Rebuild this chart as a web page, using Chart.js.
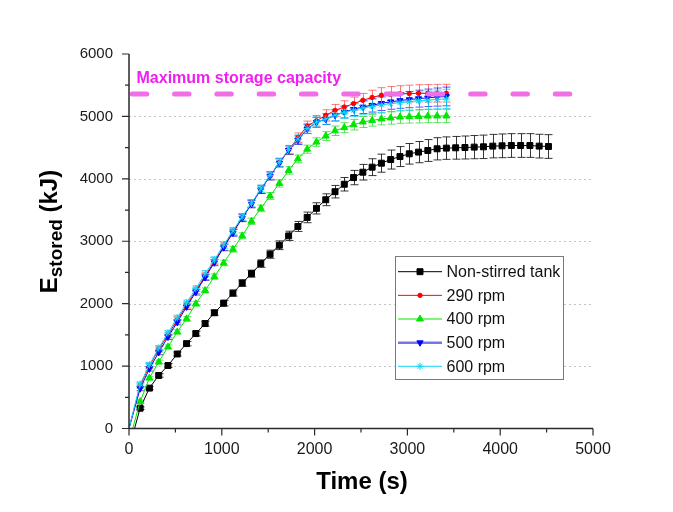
<!DOCTYPE html>
<html>
<head>
<meta charset="utf-8">
<script src="https://cdn.jsdelivr.net/npm/chart.js@4.4.1/dist/chart.umd.min.js"></script>
<style>
  html, body { margin: 0; padding: 0; background: #fff; }
  #wrap { width: 673px; height: 512px; }
</style>
</head>
<body>
<div id="wrap"><canvas id="chart" width="673" height="512"></canvas></div>
<script>
const FONT = 'Arial, "Liberation Sans", sans-serif';

// Sampling times (s)
const tRamp = [120, 220, 320, 420, 520, 620, 720, 820, 920, 1020, 1120, 1220, 1320, 1420, 1520, 1620, 1720,
  1820, 1920, 2020, 2120, 2220, 2320, 2420, 2520, 2620, 2720, 2820, 2920, 3020, 3120, 3220, 3320, 3420];
const tTail = [3520, 3620, 3720, 3820, 3920, 4020, 4120, 4220, 4320, 4420, 4520];
const tNonStirred = [60, ...tRamp, ...tTail];
const tRpm400 = [40, ...tRamp];
const tStirred = [0, ...tRamp];

// Stored energy (kJ)
const eNonStirred = [0, 325, 647, 850, 1010, 1194, 1360, 1521, 1681, 1854, 2008, 2169, 2330, 2481, 2642, 2792,
  2936, 3086, 3237, 3382, 3527, 3665, 3794, 3913, 4020, 4106, 4187, 4251, 4309, 4357, 4401, 4428, 4454, 4481,
  4492, 4497, 4502, 4508, 4513, 4524, 4529, 4534, 4534, 4534, 4524, 4518];
const e290 = [0, 690, 1000, 1270, 1500, 1740, 1980, 2210, 2440, 2680, 2915, 3150, 3380, 3600, 3830, 4050, 4260,
  4460, 4660, 4845, 4930, 5017, 5097, 5150, 5205, 5258, 5305, 5340, 5355, 5362, 5366, 5370, 5370, 5372, 5372];
const e400 = [0, 431, 808, 1065, 1307, 1548, 1757, 1999, 2212, 2433, 2652, 2872, 3086, 3320, 3527, 3725, 3926,
  4135, 4320, 4475, 4589, 4685, 4770, 4820, 4867, 4911, 4936, 4960, 4975, 4990, 4996, 5000, 5005, 5007, 5007];
const e500 = [0, 640, 957, 1220, 1467, 1702, 1950, 2185, 2420, 2658, 2900, 3135, 3370, 3596, 3826, 4045, 4256,
  4460, 4620, 4800, 4905, 4955, 5017, 5071, 5114, 5152, 5180, 5210, 5235, 5255, 5270, 5285, 5298, 5310, 5320];
const e600 = [0, 711, 1022, 1290, 1532, 1773, 2014, 2240, 2481, 2700, 2941, 3167, 3390, 3610, 3840, 4055, 4265,
  4470, 4635, 4805, 4910, 4960, 5020, 5065, 5100, 5135, 5160, 5185, 5205, 5220, 5235, 5250, 5262, 5272, 5280];

// Standard deviations (kJ)
const errNonStirred = [0, 20, 25, 28, 30, 32, 35, 38, 40, 42, 45, 48, 52, 56, 60, 65, 70, 75, 80, 85, 90, 95, 100,
  108, 115, 125, 135, 145, 152, 160, 165, 170, 175, 178, 180, 182, 184, 186, 188, 188, 190, 190, 190, 190, 190, 190];
const err290 = [0, 40, 42, 44, 46, 48, 50, 52, 54, 56, 58, 60, 62, 64, 66, 68, 70, 72, 75, 80, 85, 90, 95, 100,
  105, 110, 115, 120, 125, 130, 135, 138, 140, 142, 142];
const err400 = [0, 25, 28, 30, 32, 34, 36, 38, 40, 42, 44, 46, 48, 50, 52, 55, 58, 60, 62, 65, 68, 72, 76, 80,
  84, 88, 92, 95, 98, 100, 102, 104, 105, 106, 106];
const err500 = [0, 35, 36, 38, 40, 42, 44, 46, 48, 50, 52, 54, 56, 58, 60, 62, 64, 66, 70, 75, 80, 85, 90, 95,
  100, 105, 110, 115, 120, 125, 130, 135, 140, 145, 150];
const err600 = [0, 35, 36, 38, 40, 42, 44, 46, 48, 50, 52, 54, 56, 58, 60, 62, 64, 66, 70, 75, 80, 85, 90, 95,
  100, 108, 115, 120, 125, 130, 135, 140, 145, 150, 155];

const CAPACITY = 5360;
const capacitySpan = [35, 4800];
const xTicks = [0, 1000, 2000, 3000, 4000, 5000];
const yTicks = [0, 1000, 2000, 3000, 4000, 5000, 6000];

const toPoints = (ts, es) => ts.map((t, i) => ({ x: t, y: es[i] }));

function series(label, ts, es, errs, color, style, radius, extra) {
  return Object.assign({
    label,
    data: toPoints(ts, es),
    errors: errs,
    borderColor: color,
    backgroundColor: color,
    borderWidth: 1,
    pointStyle: style,
    pointRadius: ctx => (ctx.dataIndex === 0 ? 0 : radius),
    pointBorderWidth: 1,
    pointBorderColor: color,
    pointBackgroundColor: color,
    tension: 0,
    legendLine: { color, width: 1 },
    legendRadius: radius
  }, extra || {});
}

const datasets = [
  {
    label: 'capacity',
    data: capacitySpan.map(x => ({ x, y: CAPACITY })),
    borderColor: '#f26ee6',
    borderWidth: 5,
    borderDash: [14.5, 27.8],
    borderCapStyle: 'round',
    pointRadius: 0,
    order: 0,
    noLegend: true
  },
  series('Non-stirred tank', tNonStirred, eNonStirred, errNonStirred, '#000000', 'rect', 4.2,
    { order: 5, errorColor: 'rgba(20,20,20,0.85)' }),
  series('290 rpm', tStirred, e290, err290, '#ff0000', 'circle', 2.2,
    { order: 3, errorColor: 'rgba(255,60,60,0.7)' }),
  series('400 rpm', tRpm400, e400, err400, '#00e600', 'triangle', 4,
    { order: 4, errorColor: 'rgba(40,220,40,0.75)' }),
  series('500 rpm', tStirred, e500, err500, '#0000ff', 'triangle', 3.6,
    { order: 2, pointRotation: 180, errorColor: 'rgba(30,30,230,0.75)',
      legendLine: { color: '#7676ea', width: 2.5 } }),
  series('600 rpm', tStirred, e600, err600, '#12d6f2', 'star', 3.6,
    { order: 1, errorColor: 'rgba(0,210,240,0.75)' })
];

const decorations = {
  id: 'decorations',
  beforeDatasetsDraw(chart) {
    const { ctx, chartArea: a, scales: { x, y } } = chart;
    ctx.save();
    // dotted horizontal grid
    ctx.strokeStyle = '#c4c4c4';
    ctx.lineWidth = 1;
    ctx.setLineDash([2, 3]);
    yTicks.slice(1, -1).forEach(v => {
      const py = Math.round(y.getPixelForValue(v)) + 0.5;
      ctx.beginPath();
      ctx.moveTo(a.left, py);
      ctx.lineTo(a.right, py);
      ctx.stroke();
    });
    ctx.setLineDash([]);
    // error bars
    chart.data.datasets.forEach((ds, di) => {
      if (!ds.errors) return;
      const meta = chart.getDatasetMeta(di);
      ctx.strokeStyle = ds.errorColor;
      ctx.lineWidth = 1;
      meta.data.forEach((pt, i) => {
        const err = ds.errors[i];
        if (!err) return;
        const v = ds.data[i].y;
        const top = y.getPixelForValue(v + err);
        const bot = y.getPixelForValue(v - err);
        const px = Math.round(pt.x) + 0.5;
        ctx.beginPath();
        ctx.moveTo(px, top);
        ctx.lineTo(px, bot);
        ctx.moveTo(px - 4, top);
        ctx.lineTo(px + 4, top);
        ctx.moveTo(px - 4, bot);
        ctx.lineTo(px + 4, bot);
        ctx.stroke();
      });
    });
    ctx.restore();
  },
  afterDraw(chart) {
    const { ctx, chartArea: a, scales: { x, y } } = chart;
    ctx.save();
    // axes with major / minor ticks
    ctx.strokeStyle = '#2a2a2a';
    ctx.lineWidth = 1.5;
    ctx.beginPath();
    ctx.moveTo(a.left, a.top);
    ctx.lineTo(a.left, a.bottom);
    ctx.lineTo(a.right, a.bottom);
    ctx.stroke();
    ctx.lineWidth = 1.2;
    ctx.beginPath();
    yTicks.forEach((v, i) => {
      const py = y.getPixelForValue(v);
      ctx.moveTo(a.left, py);
      ctx.lineTo(a.left - 7, py);
      if (i < yTicks.length - 1) {
        const pm = y.getPixelForValue(v + 500);
        ctx.moveTo(a.left, pm);
        ctx.lineTo(a.left - 4, pm);
      }
    });
    xTicks.forEach((v, i) => {
      const px = x.getPixelForValue(v);
      ctx.moveTo(px, a.bottom);
      ctx.lineTo(px, a.bottom + 7);
      if (i < xTicks.length - 1) {
        const pm = x.getPixelForValue(v + 500);
        ctx.moveTo(pm, a.bottom);
        ctx.lineTo(pm, a.bottom + 4);
      }
    });
    ctx.stroke();

    // capacity annotation
    ctx.fillStyle = '#f01ef0';
    ctx.font = `bold 16px ${FONT}`;
    ctx.textBaseline = 'alphabetic';
    ctx.textAlign = 'left';
    ctx.fillText('Maximum storage capacity', 136.5, 82.5);

    // axis titles
    ctx.fillStyle = '#000';
    ctx.font = `bold 24px ${FONT}`;
    ctx.textAlign = 'center';
    ctx.fillText('Time (s)', 362, 489);

    ctx.save();
    ctx.translate(56.5, 231.5);
    ctx.rotate(-Math.PI / 2);
    ctx.textAlign = 'left';
    const big = `bold 24px ${FONT}`;
    const small = `bold 19px ${FONT}`;
    ctx.font = big;
    const wE = ctx.measureText('E').width;
    const wUnit = ctx.measureText(' (kJ)').width;
    ctx.font = small;
    const wSub = ctx.measureText('stored').width;
    let tx = -(wE + wSub + wUnit) / 2;
    ctx.font = big;
    ctx.fillText('E', tx, 0);
    tx += wE;
    ctx.font = small;
    ctx.fillText('stored', tx, 5);
    tx += wSub;
    ctx.font = big;
    ctx.fillText(' (kJ)', tx, 0);
    ctx.restore();

    // legend
    const box = { left: 395.5, top: 256.5, right: 563.5, bottom: 379.5 };
    ctx.fillStyle = '#fff';
    ctx.fillRect(box.left, box.top, box.right - box.left, box.bottom - box.top);
    ctx.strokeStyle = '#7a7a7a';
    ctx.lineWidth = 1;
    ctx.strokeRect(box.left, box.top, box.right - box.left, box.bottom - box.top);
    const entries = chart.data.datasets.filter(ds => !ds.noLegend);
    ctx.font = `16px ${FONT}`;
    ctx.textBaseline = 'middle';
    ctx.textAlign = 'left';
    entries.forEach((ds, i) => {
      const ry = 271.7 + i * 23.65;
      ctx.strokeStyle = ds.legendLine.color;
      ctx.lineWidth = ds.legendLine.width;
      ctx.beginPath();
      ctx.moveTo(398, ry);
      ctx.lineTo(442, ry);
      ctx.stroke();
      ctx.fillStyle = ds.backgroundColor;
      ctx.strokeStyle = ds.borderColor;
      ctx.lineWidth = 1;
      Chart.helpers.drawPoint(ctx, {
        pointStyle: ds.pointStyle,
        radius: ds.legendRadius,
        rotation: ds.pointRotation || 0,
        borderWidth: 1
      }, 420, ry);
      ctx.fillStyle = '#111';
      ctx.fillText(ds.label, 446.5, ry + 1);
    });
    ctx.restore();
  }
};

new Chart(document.getElementById('chart'), {
  type: 'line',
  data: { datasets },
  options: {
    responsive: false,
    animation: false,
    devicePixelRatio: 1,
    layout: { padding: { top: 54, right: 80, bottom: 0, left: 0 } },
    plugins: { legend: { display: false }, title: { display: false }, tooltip: { enabled: false } },
    scales: {
      x: {
        type: 'linear',
        min: 0,
        max: 5000,
        grid: { display: false, drawTicks: false },
        border: { display: false },
        ticks: { stepSize: 1000, padding: 11, color: '#1a1a1a', font: { family: FONT, size: 16 }, maxRotation: 0,
          callback: v => String(v) },
        afterFit(s) { s.height = 83.5; }
      },
      y: {
        type: 'linear',
        min: 0,
        max: 6000,
        grid: { display: false, drawTicks: false },
        border: { display: false },
        ticks: { stepSize: 1000, padding: 16, color: '#1a1a1a', font: { family: FONT, size: 15 },
          callback: v => String(v) },
        afterFit(s) { s.width = 129; }
      }
    }
  },
  plugins: [decorations]
});
</script>
</body>
</html>
